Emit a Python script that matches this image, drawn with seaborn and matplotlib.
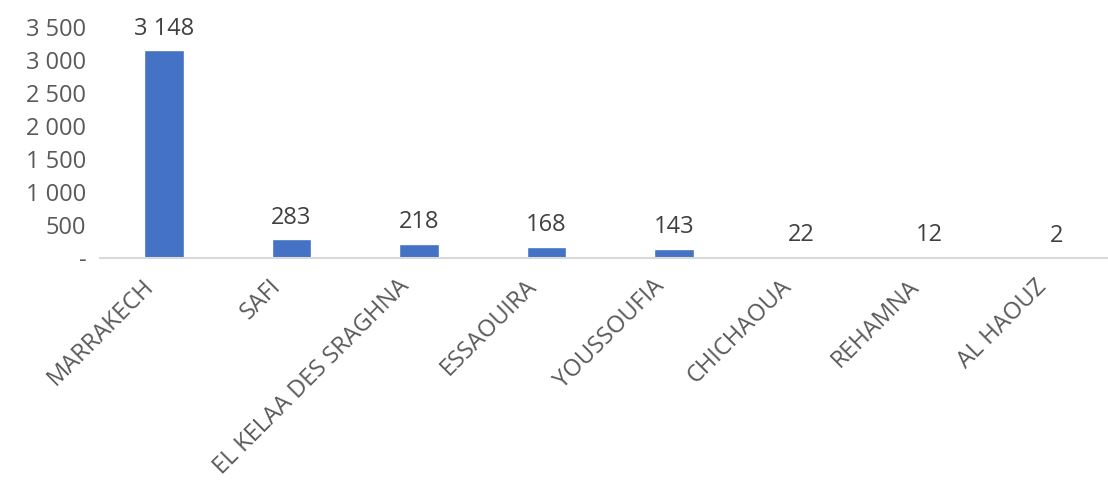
import numpy as np
import pandas as pd
import matplotlib
matplotlib.use("Agg")
import matplotlib.pyplot as plt
import matplotlib.transforms as mtrans
import seaborn as sns

# data
provinces = ["MARRAKECH", "SAFI", "EL KELAA DES SRAGHNA", "ESSAOUIRA",
             "YOUSSOUFIA", "CHICHAOUA", "REHAMNA", "AL HAOUZ"]
counts = [3148, 283, 218, 168, 143, 22, 12, 2]
yticks = [0, 500, 1000, 1500, 2000, 2500, 3000, 3500]

sns.set_theme(style="white")
plt.rcParams['font.family'] = ['Open Sans', 'DejaVu Sans']

def fmt(v):
    if v == 0:
        return "-"
    return f"{int(v):,}".replace(",", " ")

df = pd.DataFrame({"province": provinces, "count": counts})

fig = plt.figure(figsize=(11.08, 4.9), dpi=100)
ax = fig.add_axes([0.0903, 0.4735, 0.921, 0.4714])

sns.barplot(data=df, x="province", y="count", color="#4472C4",
            width=0.31, saturation=1, ax=ax)

ax.set_ylim(0, 3500)
ax.set_xlim(-0.5, len(provinces) - 0.5)
ax.set_yticks(yticks)
ax.set_yticklabels([fmt(v) for v in yticks], fontsize=17, color="#595959")
ax.set_xticks(range(len(provinces)))
ax.set_xticklabels(provinces, rotation=45, ha="right", rotation_mode="anchor",
                   fontsize=17, color="#595959")
ax.tick_params(axis="y", length=0, pad=10)
ax.tick_params(axis="x", length=0, pad=12)
# nudge rotated labels left so they end under the bars
shift = mtrans.ScaledTranslation(-0.22, 0, fig.dpi_scale_trans)
for lab in ax.get_xticklabels():
    lab.set_transform(lab.get_transform() + shift)
ax.set_xlabel("")
ax.set_ylabel("")

for s in ["top", "right", "left"]:
    ax.spines[s].set_visible(False)
ax.spines["bottom"].set_color("#D9D9D9")
ax.spines["bottom"].set_linewidth(1.5)

for i, v in enumerate(counts):
    ax.annotate(fmt(v), (i, v), xytext=(0, 7), textcoords="offset points",
                ha="center", va="bottom", fontsize=17, color="#404040")

fig.savefig("out.png", dpi=100)
